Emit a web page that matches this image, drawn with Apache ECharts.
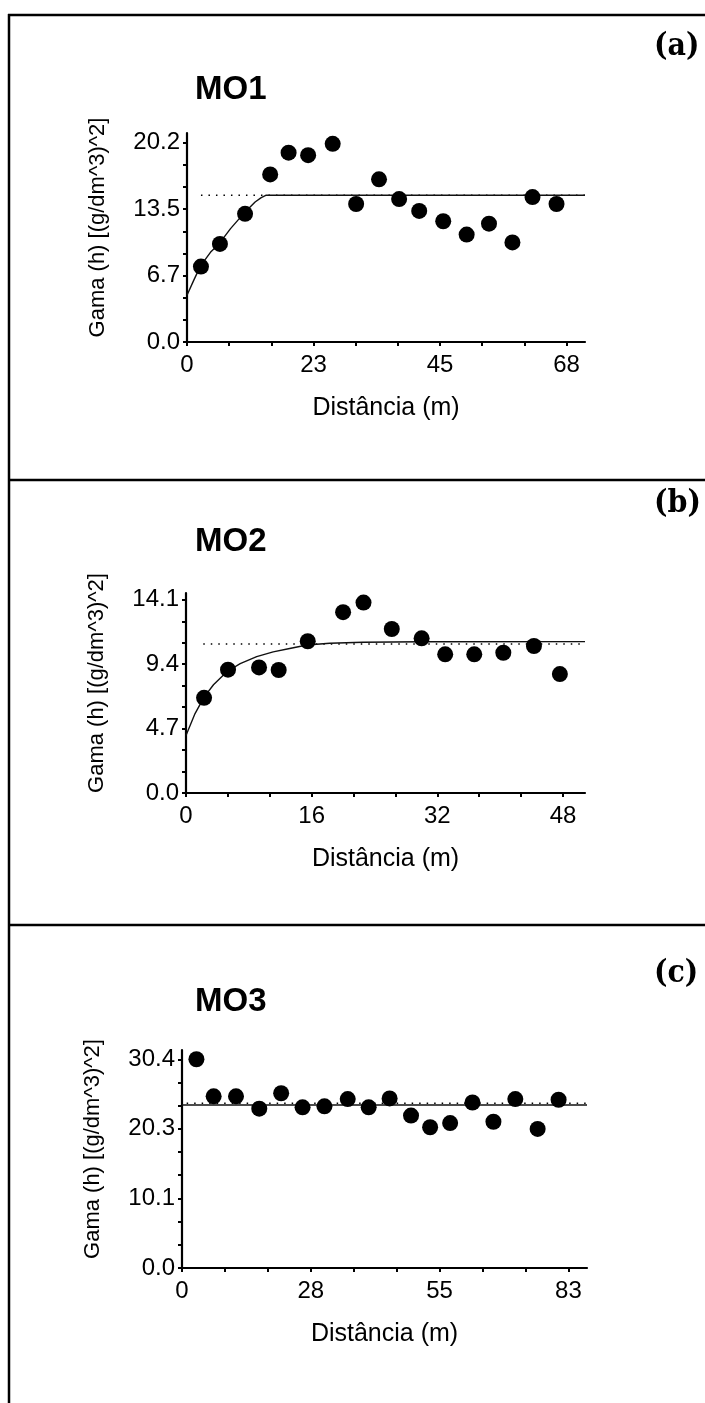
<!DOCTYPE html>
<html>
<head>
<meta charset="utf-8">
<script src="https://cdn.jsdelivr.net/npm/echarts@6/dist/echarts.min.js"></script>
<style>
html,body{margin:0;padding:0;background:#fff;}
#chart{width:705px;height:1403px;}
</style>
</head>
<body>
<div id="chart"></div>
<script>
// ---------- Panel (a) MO1 ----------
const mo1DistX  = [2.5, 5.9, 10.4, 14.9, 18.2, 21.7, 26.1, 30.3, 34.4, 38.0, 41.6, 45.9, 50.1, 54.1, 58.3, 61.9, 66.2];
const mo1Gamma  = [7.65, 9.95, 13.0, 17.0, 19.2, 18.95, 20.1, 14.0, 16.5, 14.5, 13.3, 12.25, 10.9, 12.0, 10.1, 14.7, 14.0];
const mo1ModelX = [0, 1.2, 2.4, 4.2, 5.8, 7.8, 10.1, 12.2, 13.3, 14.2, 71.3];
const mo1ModelY = [4.75, 6.25, 7.7, 9.1, 10.0, 11.5, 13.0, 14.2, 14.65, 14.89, 14.89];
const mo1VarX   = [2.5, 71.3];
const mo1VarY   = [14.89, 14.89];
const mo1XTicks = [0, 7.56, 15.11, 22.67, 30.22, 37.78, 45.33, 52.89, 60.44, 68];
const mo1XLabels = [0, 22.67, 45.33, 68];
const mo1YTicks = [0, 2.24, 4.49, 6.73, 8.98, 11.22, 13.47, 15.71, 17.96, 20.2];
const mo1YLabels = [0, 6.73, 13.47, 20.2];

// ---------- Panel (b) MO2 ----------
const mo2DistX  = [2.3, 5.35, 9.3, 11.8, 15.5, 20.0, 22.6, 26.2, 30.0, 33.0, 36.7, 40.4, 44.3, 47.6];
const mo2Gamma  = [6.95, 9.0, 9.17, 8.98, 11.08, 13.2, 13.9, 11.97, 11.29, 10.12, 10.12, 10.24, 10.73, 8.68];
const mo2ModelX = [0, 1.15, 2.3, 3.5, 5.2, 6.9, 9.0, 11.1, 13.2, 15.4, 18.3, 22.5, 30, 50.8];
const mo2ModelY = [4.2, 5.8, 7.0, 7.9, 8.85, 9.45, 9.95, 10.3, 10.55, 10.8, 10.93, 11.0, 11.04, 11.05];
const mo2VarX   = [2.2, 50.8];
const mo2VarY   = [10.88, 10.88];
const mo2XTicks = [0, 5.33, 10.67, 16, 21.33, 26.67, 32, 37.33, 42.67, 48];
const mo2XLabels = [0, 16, 32, 48];
const mo2YTicks = [0, 1.57, 3.13, 4.7, 6.27, 7.83, 9.4, 10.97, 12.53, 14.1];
const mo2YLabels = [0, 4.7, 9.4, 14.1];

// ---------- Panel (c) MO3 ----------
const mo3DistX  = [3.1, 6.8, 11.6, 16.6, 21.3, 25.9, 30.6, 35.6, 40.1, 44.6, 49.2, 53.3, 57.6, 62.4, 66.9, 71.6, 76.4, 80.9];
const mo3Gamma  = [30.4, 25.0, 25.0, 23.2, 25.45, 23.4, 23.55, 24.6, 23.4, 24.7, 22.2, 20.5, 21.1, 24.1, 21.3, 24.6, 20.25, 24.5];
const mo3ModelX = [0, 87];
const mo3ModelY = [23.75, 23.75];
const mo3VarX   = [1, 87];
const mo3VarY   = [24.0, 24.0];
const mo3XTicks = [0, 9.22, 18.44, 27.67, 36.89, 46.11, 55.33, 64.56, 73.78, 83];
const mo3XLabels = [0, 27.67, 55.33, 83];
const mo3YTicks = [0, 3.38, 6.76, 10.13, 13.51, 16.89, 20.27, 23.64, 27.02, 30.4];
const mo3YLabels = [0, 10.13, 20.27, 30.4];

const titles = ['MO1', 'MO2', 'MO3'];
const panelTags = ['(a)', '(b)', '(c)'];
const xName = 'Distância (m)';
const yName = 'Gama (h) [(g/dm^3)^2]';

// ---------- layout ----------
const FONT = '"Liberation Sans", Arial, sans-serif';
const panels = [
  {grid:{left:187, top:133, width:398, height:209}, xMax:71.3, yMax:21.2,
   titleTop:73, tagTop:31,
   pts:[mo1DistX, mo1Gamma], model:[mo1ModelX, mo1ModelY], vari:[mo1VarX, mo1VarY],
   xT:mo1XTicks, xL:mo1XLabels, yT:mo1YTicks, yL:mo1YLabels},
  {grid:{left:186, top:593, width:399, height:200}, xMax:50.8, yMax:14.6,
   titleTop:525, tagTop:488,
   pts:[mo2DistX, mo2Gamma], model:[mo2ModelX, mo2ModelY], vari:[mo2VarX, mo2VarY],
   xT:mo2XTicks, xL:mo2XLabels, yT:mo2YTicks, yL:mo2YLabels},
  {grid:{left:182, top:1050, width:405, height:218}, xMax:87, yMax:31.75,
   titleTop:985, tagTop:958,
   pts:[mo3DistX, mo3Gamma], model:[mo3ModelX, mo3ModelY], vari:[mo3VarX, mo3VarY],
   xT:mo3XTicks, xL:mo3XLabels, yT:mo3YTicks, yL:mo3YLabels}
];

const zip = (a, b) => a.map((v, i) => [v, b[i]]);

const grid = [], xAxis = [], yAxis = [], series = [], title = [];
const graphic = [];

panels.forEach((p, i) => {
  grid.push(Object.assign({containLabel:false}, p.grid));
  const axLine = {show:true, lineStyle:{color:'#000', width:2.2}};
  const tickStyle = {color:'#000', width:2};
  const labStyle = {color:'#000', fontSize:24, fontFamily:FONT};
  // main x axis (outer ticks + labels)
  xAxis.push({
    type:'value', gridIndex:i, min:0, max:p.xMax,
    axisLine:axLine,
    axisTick:{show:true, length:4, lineStyle:tickStyle, customValues:p.xT},
    axisLabel:Object.assign({show:true, margin:11, customValues:p.xL,
      formatter:v => String(Math.round(v))}, labStyle),
    splitLine:{show:false},
    name:xName, nameLocation:'middle', nameGap:54,
    nameTextStyle:{color:'#000', fontSize:25, fontFamily:FONT}
  });
  // inner ticks x
  xAxis.push({
    type:'value', gridIndex:i, min:0, max:p.xMax,
    axisLine:{show:false},
    axisTick:{show:true, inside:true, length:4, lineStyle:tickStyle, customValues:p.xT},
    axisLabel:{show:false}, splitLine:{show:false}
  });
  yAxis.push({
    type:'value', gridIndex:i, min:0, max:p.yMax,
    axisLine:axLine,
    axisTick:{show:true, length:4, lineStyle:tickStyle, customValues:p.yT},
    axisLabel:Object.assign({show:true, margin:7, customValues:p.yL,
      formatter:v => v.toFixed(1)}, labStyle),
    splitLine:{show:false},
    name:yName, nameLocation:'middle', nameGap:78, nameRotate:90,
    nameTextStyle:{color:'#000', fontSize:22, fontFamily:FONT, padding:[0, 0, 0, 20]}
  });
  yAxis.push({
    type:'value', gridIndex:i, min:0, max:p.yMax,
    axisLine:{show:false},
    axisTick:{show:true, inside:true, length:4, lineStyle:tickStyle, customValues:p.yT},
    axisLabel:{show:false}, splitLine:{show:false}
  });

  series.push({
    type:'line', xAxisIndex:2*i, yAxisIndex:2*i, data:zip(p.vari[0], p.vari[1]),
    showSymbol:false, silent:true, z:1,
    lineStyle:{color:'#000', width:1.5, type:[1.5, 6]}
  });
  series.push({
    type:'line', xAxisIndex:2*i, yAxisIndex:2*i, data:zip(p.model[0], p.model[1]),
    showSymbol:false, silent:true, z:2, smooth:false,
    lineStyle:{color:'#111', width:1.4}
  });
  series.push({
    type:'scatter', xAxisIndex:2*i, yAxisIndex:2*i, data:zip(p.pts[0], p.pts[1]),
    symbol:'circle', symbolSize:16, z:3,
    itemStyle:{color:'#000', opacity:1}
  });

  title.push({
    text:titles[i], left:195, top:p.titleTop, padding:0,
    textStyle:{fontSize:33, fontWeight:'bold', color:'#000', fontFamily:FONT}
  });
  graphic.push({
    type:'text', left:654, top:p.tagTop,
    style:{text:panelTags[i], fill:'#000', font:'bold 31px "DejaVu Serif", serif'},
    scaleX:0.92
  });
});

// frame lines
const frameStyle = {stroke:'#000', lineWidth:2.5};
graphic.push({type:'line', shape:{x1:9, y1:14, x2:9, y2:1403}, style:frameStyle});
graphic.push({type:'line', shape:{x1:8, y1:15, x2:705, y2:15}, style:frameStyle});
graphic.push({type:'line', shape:{x1:8, y1:480, x2:705, y2:480}, style:frameStyle});
graphic.push({type:'line', shape:{x1:8, y1:925, x2:705, y2:925}, style:frameStyle});

const chart = echarts.init(document.getElementById('chart'), null, {renderer:'canvas'});
chart.setOption({
  animation:false,
  backgroundColor:'#fff',
  title, grid, xAxis, yAxis, series, graphic
});
</script>
</body>
</html>
